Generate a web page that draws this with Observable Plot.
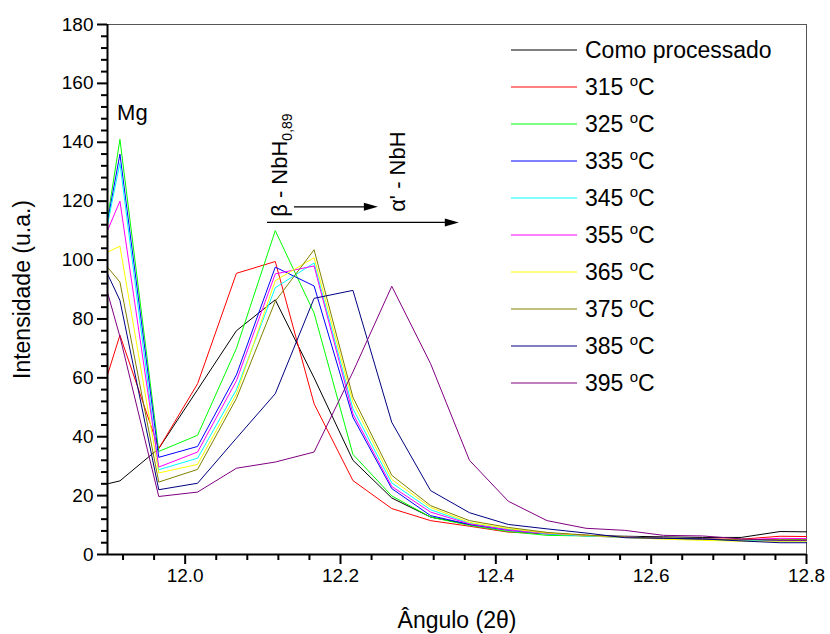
<!DOCTYPE html>
<html>
<head>
<meta charset="utf-8">
<script src="https://cdn.jsdelivr.net/npm/d3@7"></script>
<script src="https://cdn.jsdelivr.net/npm/@observablehq/plot@0.6"></script>
<style>
  body { margin: 0; background: #fff; }
  #chart { width: 830px; height: 634px; }
</style>
</head>
<body>
<div id="chart"></div>
<script>
// ---- data ----
const angles = [11.9, 11.916, 11.966, 12.016, 12.066, 12.116, 12.166, 12.216, 12.266, 12.316,
                12.366, 12.416, 12.466, 12.516, 12.566, 12.616, 12.666, 12.716, 12.766, 12.8];

const seriesNames  = ["Como processado", "315", "325", "335", "345", "355", "365", "375", "385", "395"];
const seriesColors = ["#000000", "#ff0000", "#00ff00", "#0000ff", "#00ffff", "#ff00ff", "#ffff00", "#808000", "#000080", "#800080"];

const comoProcessado = [24, 25, 36, 56, 76, 86.5, 60, 32, 19.2, 12.7, 10.2, 8.5, 7.2, 6.5, 6.2, 6, 5.8, 5.8, 7.8, 7.7];
const t315 = [61, 74.5, 36, 58, 95.5, 99.5, 51.2, 25.1, 15.6, 11.5, 9.6, 7.6, 7, 6.3, 5.8, 5.5, 5.3, 5.2, 6.2, 6.1];
const t325 = [114, 141, 35, 40.5, 70, 110, 82, 34, 19.9, 12.7, 9.9, 7.8, 6.5, 6.3, 6, 5.5, 5.2, 5, 5, 5];
const t335 = [113, 136, 33, 36.7, 61, 97.6, 91.2, 46.6, 22.4, 13.2, 10.2, 8.2, 7, 6.5, 6, 5.5, 5.2, 5, 4.6, 4.6];
const t345 = [112, 133, 28.8, 32.7, 56, 90.6, 99, 49.5, 24.3, 15.2, 10.6, 8.5, 7, 6.3, 5.8, 5.4, 5, 4.8, 4.6, 4.6];
const t355 = [110, 120, 29.7, 34.8, 59, 95.3, 98, 47.8, 23.1, 14.4, 10.4, 8.3, 7.2, 6.5, 6, 5.5, 5.2, 5, 5.5, 5.4];
const t365 = [102.7, 104.7, 27.7, 30.6, 54.5, 93, 100.8, 51.7, 25.5, 16, 10.9, 8.8, 7.3, 6.5, 5.8, 5.2, 4.8, 4.5, 4.5, 4.5];
const t375 = [97.6, 92.5, 24.6, 28.9, 53, 86, 103.5, 53.4, 26.9, 16.6, 11.5, 9.2, 7.5, 6.6, 6, 5.5, 5.2, 5, 5, 5];
const t385 = [95.3, 86.3, 22, 24.2, 39.5, 54.6, 87, 89.7, 44.9, 21.7, 14.2, 10.2, 8.7, 7.3, 5.7, 5.5, 5.3, 4.6, 4, 4];
const t395 = [89, 74, 19.7, 21.2, 29.3, 31.4, 34.8, 62, 91.1, 64.8, 32, 18.1, 11.5, 8.9, 8.2, 6.5, 6.3, 5.3, 4.8, 4.8];

const seriesValues = [comoProcessado, t315, t325, t335, t345, t355, t365, t375, t385, t395];

const xMajorTicks = [12.0, 12.2, 12.4, 12.6, 12.8];
const yMajorTicks = [0, 20, 40, 60, 80, 100, 120, 140, 160, 180];

const xTitle = "Ângulo (2θ)";
const yTitle = "Intensidade (u.a.)";

// annotations (data coordinates)
const mgLabel   = {x: 11.913, y: 147.4, text: "Mg"};
const betaLabel = {x: 12.1317, y: 114.5, text: "β - NbH", sub: "0,89"};
const alphaLabel = {x: 12.2835, y: 116.2, text: "α' - NbH"};
const arrows = [
  {x1: 12.1407, x2: 12.2488, y: 117.9},
  {x1: 12.106,  x2: 12.353,  y: 112.6}
];

// ---- build table ----
const rows = [];
seriesNames.forEach((name, s) => {
  seriesValues[s].forEach((v, i) => rows.push({angle: angles[i], value: v, series: name}));
});

const xMinorTicks = d3.range(0, 23).map(i => +(11.92 + i * 0.04).toFixed(2))
  .filter(v => v <= 12.8 && !xMajorTicks.some(m => Math.abs(m - v) < 1e-6));
const yMinorTicks = d3.range(0, 181, 4).filter(v => v % 20 !== 0);

const X0 = 11.9, Y0 = 0;
const FONT = "'Liberation Sans', Arial, Helvetica, sans-serif";

const plot = Plot.plot({
  width: 830,
  height: 634,
  marginLeft: 107,
  marginRight: 24,
  marginTop: 24,
  marginBottom: 80,
  style: {fontFamily: FONT, fontSize: "19px", color: "#000", background: "#fff"},
  x: {domain: [11.9, 12.8]},
  y: {domain: [0, 180]},
  color: {domain: seriesNames, range: seriesColors},
  marks: [
    Plot.frame({stroke: "#555", strokeWidth: 1}),
    Plot.line(rows, {x: "angle", y: "value", z: "series", stroke: "series", strokeWidth: 1}),
    Plot.axisX(xMajorTicks, {tickSize: 10, tickPadding: 4, stroke: "#000", strokeWidth: 2,
                tickFormat: d3.format(".1f"), label: null, fontSize: 19}),
    Plot.axisX(xMinorTicks, {tickSize: 6, stroke: "#000", strokeWidth: 2, tickFormat: () => "", label: null}),
    Plot.axisY(yMajorTicks, {tickSize: 10, tickPadding: 4, stroke: "#000", strokeWidth: 2,
                tickFormat: d3.format("d"), label: null, fontSize: 19}),
    Plot.axisY(yMinorTicks, {tickSize: 6, stroke: "#000", strokeWidth: 2, tickFormat: () => "", label: null}),
    Plot.ruleX([X0], {stroke: "#000", strokeWidth: 2}),
    Plot.ruleY([Y0], {stroke: "#000", strokeWidth: 2}),
    Plot.text([xTitle], {frameAnchor: "bottom", dy: 66, lineAnchor: "middle", textAnchor: "middle", fontSize: 23, fill: "#000"}),
    Plot.text([yTitle], {frameAnchor: "left", dx: -85, rotate: -90, textAnchor: "middle", lineAnchor: "middle", fontSize: 23, fill: "#000"})
  ]
});

// ---- annotations & legend (positioned with the plot's own scales) ----
const sx = plot.scale("x"), sy = plot.scale("y");
const svg = d3.select(plot);
const ann = svg.append("g").attr("font-family", FONT).attr("fill", "#000").attr("text-anchor", "start");

ann.append("text")
  .attr("x", sx.apply(mgLabel.x)).attr("y", sy.apply(mgLabel.y))
  .attr("font-size", 22).text(mgLabel.text);

const bt = ann.append("text")
  .attr("transform", `translate(${sx.apply(betaLabel.x)},${sy.apply(betaLabel.y)}) rotate(-90)`)
  .attr("font-size", 22);
bt.append("tspan").text(betaLabel.text);
bt.append("tspan").attr("font-size", 14).attr("dy", 5).text(betaLabel.sub);

ann.append("text")
  .attr("transform", `translate(${sx.apply(alphaLabel.x)},${sy.apply(alphaLabel.y)}) rotate(-90)`)
  .attr("font-size", 22).text(alphaLabel.text);

arrows.forEach(a => {
  const x1 = sx.apply(a.x1), x2 = sx.apply(a.x2), y = sy.apply(a.y);
  ann.append("line").attr("x1", x1).attr("x2", x2 - 10).attr("y1", y).attr("y2", y)
    .attr("stroke", "#000").attr("stroke-width", 1.3);
  ann.append("path").attr("d", `M${x2},${y}L${x2 - 14},${y - 4}L${x2 - 14},${y + 4}Z`).attr("fill", "#000");
});

const leg = svg.append("g").attr("font-family", FONT).attr("font-size", 23).attr("fill", "#000")
  .attr("text-anchor", "start");
seriesNames.forEach((name, i) => {
  const y = 50 + i * 37;
  leg.append("line").attr("x1", 511).attr("x2", 577).attr("y1", y).attr("y2", y)
    .attr("stroke", seriesColors[i]).attr("stroke-width", 1);
  const t = leg.append("text").attr("x", 585).attr("y", y + 8);
  if (i === 0) {
    t.text(name);
  } else {
    t.append("tspan").text(name + " ");
    t.append("tspan").attr("font-size", 15).attr("dy", -9).text("o");
    t.append("tspan").attr("dy", 9).text("C");
  }
});

document.getElementById("chart").appendChild(plot);
</script>
</body>
</html>
